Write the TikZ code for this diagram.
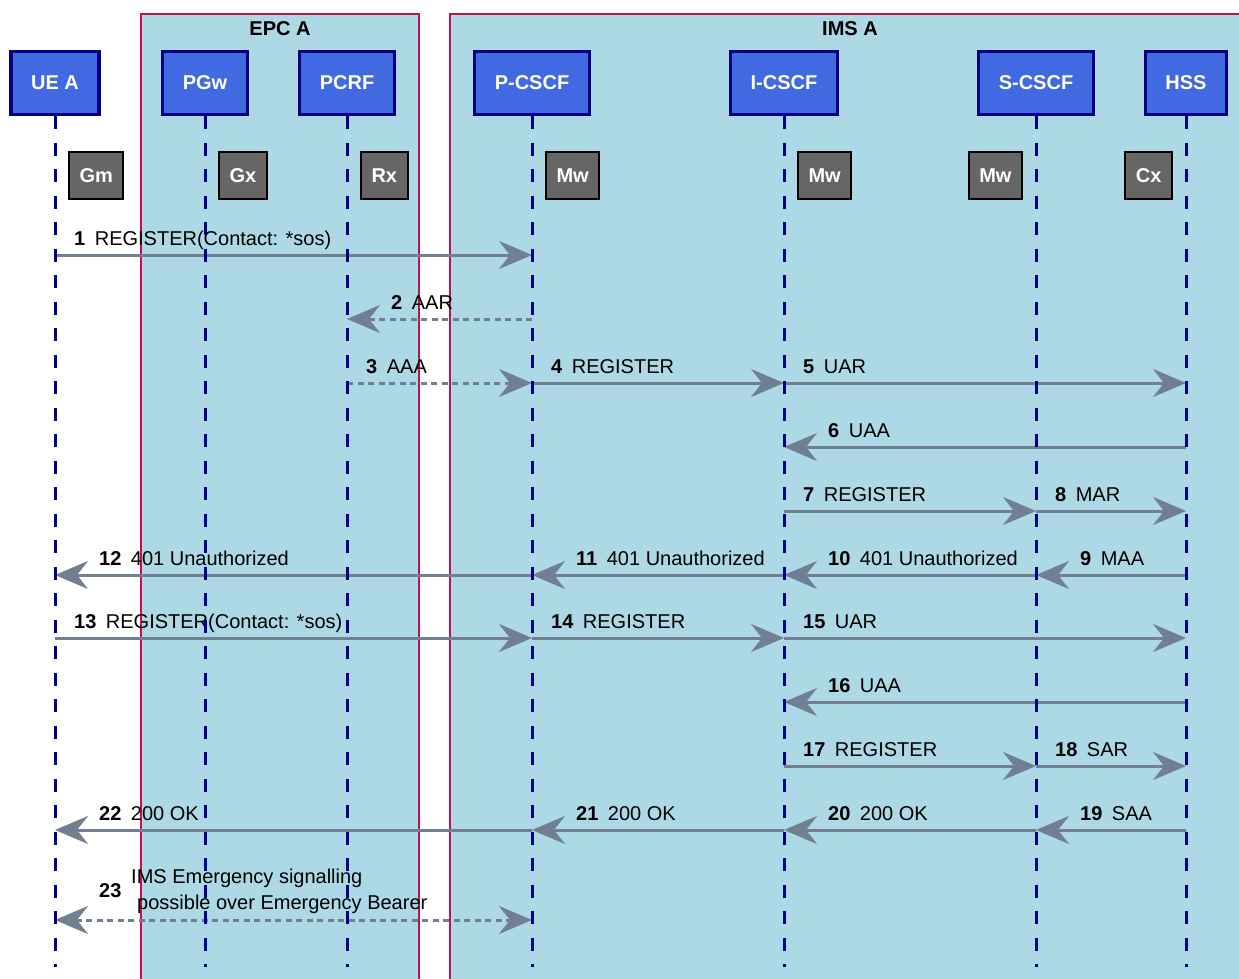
\documentclass[tikz,border=0pt]{standalone}
\usepackage{fontspec}
\setmainfont{Liberation Sans}
\usepackage{tikz}
\usetikzlibrary{positioning,arrows.meta}
\usepackage{xcolor}
\definecolor{regionfill}{RGB}{173,216,230}
\definecolor{regionline}{RGB}{196,18,72}
\definecolor{headfill}{RGB}{65,105,225}
\definecolor{headline}{RGB}{0,0,128}
\definecolor{lifecol}{RGB}{0,0,139}
\definecolor{ifacefill}{RGB}{102,102,102}
\definecolor{msgcol}{RGB}{112,128,144}
\tikzset{
  head/.style={draw=headline,fill=headfill,line width=3.3pt,text=white,
    font=\fontsize{20}{24}\selectfont\bfseries,minimum height=63pt,inner xsep=20pt},
  iface/.style={draw=black,fill=ifacefill,line width=2pt,text=white,
    font=\fontsize{20}{24}\selectfont\bfseries,minimum height=47pt,inner xsep=10.5pt},
  life/.style={lifecol,line width=3pt,dash pattern=on 13pt off 13.5pt},
  msg/.style={->,msgcol,line width=3pt},
  reply/.style={msg,dash pattern=on 6pt off 4.5pt},
  lbl/.style={font=\fontsize{20}{26}\selectfont,anchor=base west,inner sep=0pt}
}

\begin{document}
\begin{tikzpicture}[x=1pt,y=-1pt,>={Stealth[length=33pt,width=28pt,inset=11pt]}]
\useasboundingbox (0,0) rectangle (1239,979);
\clip (0,0) rectangle (1239,979);
\foreach \a/\b/\id/\nm in {141/419/epc/EPC A, 450/1250/ims/IMS A}{
  \filldraw[fill=regionfill,draw=regionline,line width=2pt] (\a,14) rectangle (\b,1000);
  \node[font=\fontsize{20}{24}\selectfont\bfseries] (\id) at ({(\a+\b)/2},29) {\nm};
}
\foreach \nm/\x/\txt in {ue/55/UE A, pgw/205/PGw, pcrf/347/PCRF, pcscf/532/P-CSCF,
  icscf/784/I-CSCF, scscf/1036/S-CSCF, hss/1186/HSS}{
  \node[head] (\nm) at (\x,83) {\txt};
  \coordinate (\nm-end) at (\x,967);
}
\foreach \id/\nm/\dx/\side/\txt in {gm/ue/13/west/Gm, gx/pgw/13/west/Gx, rx/pcrf/13/west/Rx,
  mwp/pcscf/13/west/Mw, mwi/icscf/13/west/Mw, mws/scscf/-13/east/Mw, cx/hss/-13/east/Cx}
  \path (\nm |- 0,175.5) ++(\dx,0) node[iface,anchor=\side] (\id) {\txt};
% messages to the right
\foreach \y/\a/\b/\n/\t/\st in {255/ue/pcscf/1/REGISTER(Contact: *sos)/msg,
  383/pcrf/pcscf/3/AAA/reply, 383/pcscf/icscf/4/REGISTER/msg, 383/icscf/hss/5/UAR/msg,
  511/icscf/scscf/7/REGISTER/msg, 511/scscf/hss/8/MAR/msg,
  638/ue/pcscf/13/REGISTER(Contact: *sos)/msg, 638/pcscf/icscf/14/REGISTER/msg,
  638/icscf/hss/15/UAR/msg, 766/icscf/scscf/17/REGISTER/msg, 766/scscf/hss/18/SAR/msg}{
  \draw[\st] (\a |- 0,\y) -- (\b |- 0,\y);
  \path (\a |- 0,\y) ++(19,-10) node[lbl] (m\n) {\textbf{\n}\hspace{9.5pt}\t};
}
% messages to the left
\foreach \y/\a/\b/\n/\t/\st in {319/pcscf/pcrf/2/AAR/reply, 447/hss/icscf/6/UAA/msg,
  575/hss/scscf/9/MAA/msg, 575/scscf/icscf/10/401 Unauthorized/msg,
  575/icscf/pcscf/11/401 Unauthorized/msg, 575/pcscf/ue/12/401 Unauthorized/msg,
  702/hss/icscf/16/UAA/msg, 830/hss/scscf/19/SAA/msg, 830/scscf/icscf/20/200 OK/msg,
  830/icscf/pcscf/21/200 OK/msg, 830/pcscf/ue/22/200 OK/msg}{
  \draw[\st] (\a |- 0,\y) -- (\b |- 0,\y);
  \path (\b |- 0,\y) ++(44,-10) node[lbl] (m\n) {\textbf{\n}\hspace{9.5pt}\t};
}
\draw[reply,<->] (ue |- 0,920) -- (pcscf |- 0,920);
\path (ue |- 0,920) ++(44,-23) node[lbl] (m23) {\textbf{23}};
\node[lbl,align=left] (m23txt) at (131,909) {IMS Emergency signalling\\\hspace*{6pt}possible over Emergency Bearer};
\foreach \nm in {ue,pgw,pcrf,pcscf,icscf,scscf,hss}
  \draw[life] (\nm.south) -- (\nm-end);
\end{tikzpicture}
\end{document}
